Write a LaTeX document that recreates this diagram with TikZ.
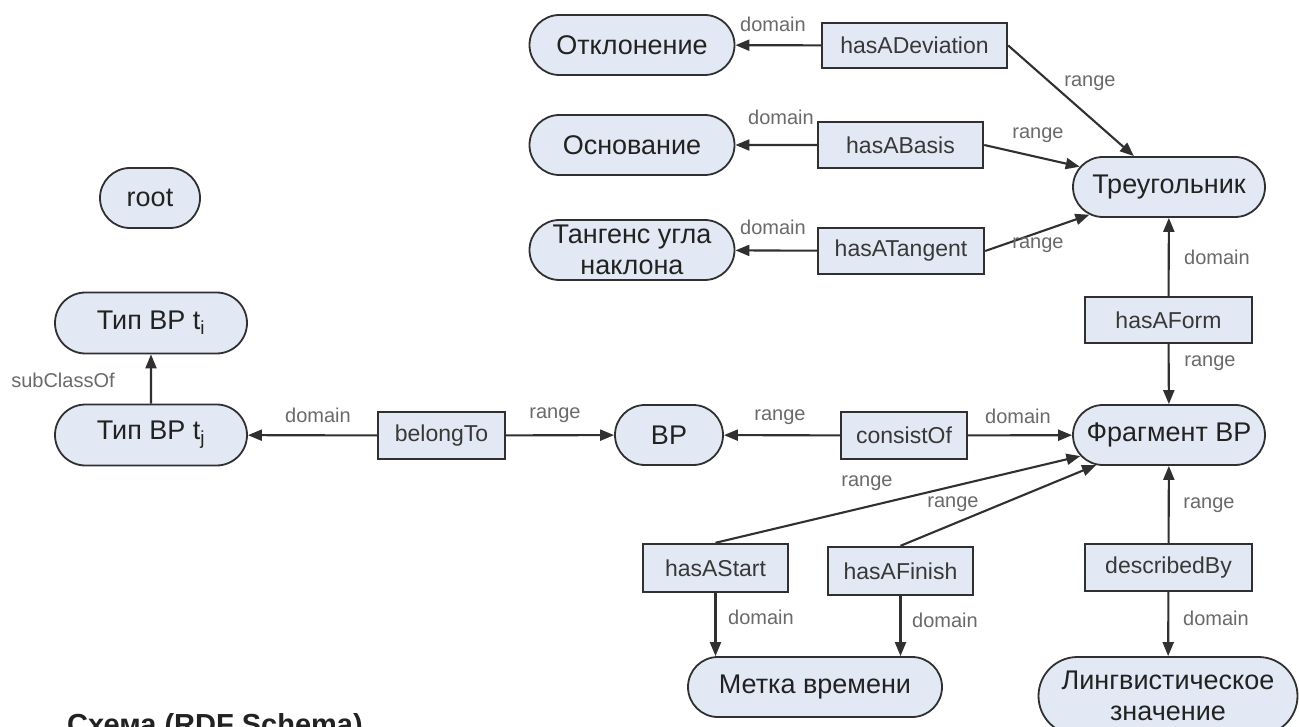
\documentclass[tikz,border=0pt]{standalone}
\usepackage{fontspec}
\setmainfont{Liberation Sans}
\usetikzlibrary{shapes.misc,arrows.meta}
\definecolor{nodefill}{HTML}{E3E9F4}
\definecolor{linec}{HTML}{303030}
\definecolor{labc}{HTML}{6A6A6A}
\definecolor{txtc}{HTML}{222222}
\tikzset{
  cls/.style={rounded rectangle, draw=linec, line width=1.8pt, fill=nodefill,
    font=\fontsize{27}{31}\selectfont, text=txtc, inner sep=0pt, minimum height=60pt},
  prop/.style={rectangle, draw=linec, line width=2.4pt, fill=nodefill,
    font=\fontsize{23}{27}\selectfont, text=txtc!90, inner sep=0pt, minimum height=46pt},
  lab/.style={font=\fontsize{20}{24}\selectfont, text=labc, inner sep=0pt},
  conn/.style={draw=linec, line width=2.1pt, -{Triangle[length=14pt,width=11pt]}},
  capt/.style={font=\bfseries\fontsize{29}{33}\selectfont, text=txtc, inner sep=0pt}
}
\begin{document}
\begin{tikzpicture}[x=1pt,y=-1pt]
\useasboundingbox (0,0) rectangle (1299,727);
\clip (0,0) rectangle (1299,727);
\fill[white] (0,0) rectangle (1299,727);

% class nodes
\node[cls, minimum width=205pt] (otk) at (632,45) {Отклонение};
\node[cls, minimum width=205pt] (osn) at (632,145) {Основание};
\node[cls, minimum width=205pt, align=center] (tan) at (632,250) {Тангенс угла\\наклона};
\node[cls, minimum width=192pt] (tri) at (1169,187) {Треугольник};
\node[cls, minimum width=192pt] (frag) at (1169,435) {Фрагмент ВР};
\node[cls, minimum width=100pt] (root) at (150,198) {root};
\node[cls, minimum width=192pt, minimum height=61pt] (ti) at (151,323) {Тип ВР t\textsubscript{i}};
\node[cls, minimum width=192pt, minimum height=61pt] (tj) at (151,435) {Тип ВР t\textsubscript{j}};
\node[cls, minimum width=108pt] (vr) at (669,435) {ВР};
\node[cls, minimum width=254pt] (metka) at (815,687) {Метка времени};
\node[cls, minimum width=259pt, minimum height=78pt, align=center] (ling) at (1168,696) {Лингвистическое\\значение};

% property nodes
\node[prop, minimum width=185pt, minimum height=45pt] (dev) at (914.5,45.5) {hasADeviation};
\node[prop, minimum width=165pt] (basis) at (900.5,145) {hasABasis};
\node[prop, minimum width=166pt] (tang) at (901,251) {hasATangent};
\node[prop, minimum width=167pt] (form) at (1168.5,320) {hasAForm};
\node[prop, minimum width=127pt, minimum height=47pt] (belong) at (441.5,435.5) {belongTo};
\node[prop, minimum width=126pt, minimum height=47pt] (consist) at (904,435.5) {consistOf};
\node[prop, minimum width=145pt, minimum height=48pt] (start) at (715.5,568) {hasAStart};
\node[prop, minimum width=145pt, minimum height=48pt] (finish) at (900.5,571) {hasAFinish};
\node[prop, minimum width=167pt, minimum height=47pt] (descr) at (1168.5,567.5) {describedBy};

% connectors
\draw[conn] (dev) -- (otk);
\draw[conn] (basis) -- (osn);
\draw[conn] (tang) -- (tan);
\draw[conn] (dev.east) -- (tri);
\draw[conn] (basis.east) -- (tri);
\draw[conn] (tang.east) -- (tri);
\draw[conn] (form) -- (tri);
\draw[conn] (form) -- (frag);
\draw[conn] (tj) -- (ti);
\draw[conn] (belong) -- (tj);
\draw[conn] (belong) -- (vr);
\draw[conn] (consist) -- (vr);
\draw[conn] (consist) -- (frag);
\draw[conn] (start.north) -- (frag);
\draw[conn] (finish.north) -- (frag);
\draw[conn] (descr) -- (frag);
\draw[conn] (descr) -- (ling);
\draw[conn] (start.south) -- (start.south |- metka.north);
\draw[conn] (finish.south) -- (finish.south |- metka.north);

% labels
\node[lab] (l1) at (773,24) {domain};
\node[lab] (l2) at (781,117) {domain};
\node[lab] (l3) at (773,227) {domain};
\node[lab] (l4) at (1090,83) {range};
\node[lab] (l5) at (1038,135) {range};
\node[lab] (l6) at (1038,245) {range};
\node[lab] (l7) at (1217,257) {domain};
\node[lab] (l8) at (1210,363) {range};
\node[lab] (l9) at (63,380) {subClassOf};
\node[lab] (l10) at (318,415) {domain};
\node[lab] (l11) at (555,415) {range};
\node[lab] (l12) at (780,417) {range};
\node[lab] (l13) at (1018,416) {domain};
\node[lab] (l14) at (867,483) {range};
\node[lab] (l15) at (953,504) {range};
\node[lab] (l16) at (1209,505) {range};
\node[lab] (l17) at (761,617) {domain};
\node[lab] (l18) at (945,620) {domain};
\node[lab] (l19) at (1216,618) {domain};

% caption (cut off by the lower edge, as in the reference)
\node[capt, anchor=base west] (cap) at (67,734) {Схема (RDF Schema)};
\end{tikzpicture}
\end{document}
